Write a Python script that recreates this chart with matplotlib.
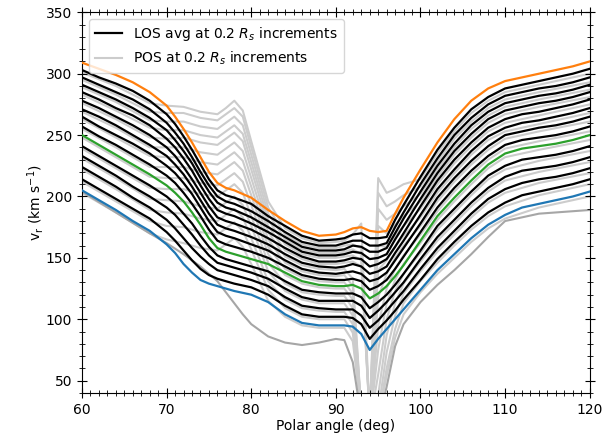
import matplotlib.pyplot as plt
from matplotlib.lines import Line2D
from matplotlib.ticker import MultipleLocator

# polar angles of the line-of-sight averaged profiles
theta_los = [60, 62, 64, 66, 68, 70, 71, 72, 73, 74, 75, 76, 77, 78, 80, 82, 84, 86, 88, 90,
             91, 92, 93, 94, 95, 96, 97, 98, 100, 102, 104, 106, 108, 110, 112, 114, 116, 118, 120]

# LOS averaged v_r (km/s), one row per height, lowest height first
los_vr = [
    [205, 197, 189, 180, 172, 161, 154, 145, 138, 132, 129, 127, 125, 123, 120, 114, 104, 97, 95, 95, 95, 94, 88, 75, 84, 92, 100, 108, 124, 140, 153, 166, 177, 185, 191, 194, 197, 200, 204],
    [214, 206, 198, 190, 182, 171, 164, 156, 148, 141, 136, 133, 131, 129, 126, 120, 111, 104, 102, 102, 102, 101, 96, 84, 92, 99, 107, 116, 132, 149, 163, 176, 187, 195, 201, 204, 207, 210, 214],
    [224, 216, 208, 199, 191, 181, 174, 166, 158, 151, 145, 140, 138, 136, 132, 127, 118, 111, 109, 108, 108, 108, 103, 93, 99, 107, 115, 123, 141, 158, 172, 186, 198, 206, 211, 214, 216, 219, 223],
    [233, 225, 217, 208, 200, 191, 185, 177, 169, 160, 152, 146, 144, 142, 138, 133, 125, 118, 115, 115, 115, 115, 111, 101, 107, 114, 122, 130, 149, 167, 181, 195, 207, 216, 221, 223, 225, 228, 232],
    [241, 233, 225, 217, 209, 200, 194, 186, 178, 168, 159, 152, 149, 147, 143, 139, 131, 124, 122, 121, 121, 121, 118, 109, 114, 120, 128, 137, 156, 176, 190, 204, 217, 225, 230, 232, 234, 237, 241],
    [250, 242, 234, 226, 218, 209, 203, 196, 187, 177, 166, 158, 155, 153, 149, 145, 138, 131, 128, 127, 127, 128, 125, 117, 121, 127, 135, 144, 164, 184, 199, 213, 226, 235, 239, 241, 243, 246, 250],
    [257, 249, 242, 234, 226, 217, 211, 203, 194, 184, 173, 164, 161, 159, 155, 150, 143, 136, 133, 132, 132, 133, 131, 124, 127, 132, 141, 151, 171, 191, 207, 221, 233, 242, 246, 248, 250, 253, 257],
    [265, 257, 250, 243, 235, 225, 219, 211, 202, 191, 180, 171, 168, 166, 161, 156, 148, 141, 138, 137, 138, 139, 137, 131, 133, 138, 148, 158, 178, 199, 215, 229, 241, 250, 253, 256, 258, 261, 265],
    [271, 265, 258, 250, 242, 233, 226, 218, 208, 197, 186, 177, 174, 172, 167, 161, 153, 146, 143, 142, 143, 145, 143, 137, 139, 143, 154, 164, 185, 206, 222, 237, 249, 256, 260, 262, 265, 268, 272],
    [278, 272, 265, 258, 250, 240, 233, 224, 214, 203, 192, 183, 180, 178, 173, 166, 158, 151, 147, 147, 148, 150, 149, 143, 145, 149, 159, 170, 192, 213, 230, 244, 256, 263, 267, 269, 272, 275, 279],
    [285, 279, 272, 266, 258, 247, 240, 231, 221, 209, 198, 189, 186, 184, 178, 171, 163, 155, 152, 152, 153, 155, 154, 149, 150, 153, 165, 176, 198, 219, 237, 251, 263, 270, 273, 276, 278, 281, 285],
    [291, 285, 279, 272, 264, 254, 246, 237, 227, 215, 204, 195, 191, 189, 183, 175, 167, 159, 156, 156, 157, 160, 159, 155, 155, 158, 170, 182, 204, 225, 243, 258, 269, 276, 279, 282, 284, 287, 291],
    [297, 291, 285, 279, 271, 260, 252, 243, 232, 220, 209, 200, 196, 194, 188, 180, 171, 163, 160, 160, 162, 164, 164, 160, 160, 162, 175, 187, 210, 231, 250, 264, 275, 282, 285, 288, 290, 293, 297],
    [303, 297, 292, 286, 278, 267, 259, 249, 238, 226, 214, 205, 201, 199, 194, 184, 176, 168, 164, 165, 166, 169, 170, 166, 166, 167, 181, 193, 216, 238, 256, 271, 281, 288, 291, 294, 297, 300, 304],
    [309, 304, 299, 293, 285, 274, 265, 255, 244, 232, 220, 211, 207, 205, 199, 189, 180, 172, 168, 169, 171, 174, 175, 172, 171, 172, 186, 199, 222, 244, 263, 278, 288, 294, 297, 300, 303, 306, 310],
]

# polar angles of the plane-of-sky profiles
theta_pos = [60, 64, 68, 70, 72, 74, 76, 77, 78, 79, 80, 82, 84, 86, 88, 90, 91, 92,
             93, 94, 95, 96, 97, 98, 100, 102, 104, 106, 108, 110, 114, 120]

# POS v_r (km/s), one row per height, lowest height first
pos_vr = [
    [204, 187, 170, 162, 153, 143, 131, 122, 113, 104, 96, 86, 81, 79, 81, 84, 83, 65, 20, 15, 15, 45, 78, 96, 114, 128, 140, 153, 167, 180, 186, 189],
    [203, 187, 170, 165, 162, 158, 156, 161, 166, 159, 145, 115, 102, 95, 93, 93, 93, 82, 25, 15, 20, 54, 85, 104, 122, 137, 150, 163, 174, 182, 191, 200],
    [212, 196, 180, 176, 175, 171, 169, 174, 179, 172, 157, 124, 109, 102, 100, 100, 100, 89, 25, 15, 20, 60, 92, 113, 131, 146, 160, 173, 184, 192, 201, 210],
    [222, 206, 189, 187, 186, 182, 180, 185, 190, 183, 166, 131, 116, 109, 107, 106, 106, 96, 25, 15, 25, 73, 103, 121, 139, 155, 169, 183, 195, 203, 211, 219],
    [231, 215, 198, 197, 196, 192, 190, 195, 200, 193, 176, 139, 123, 116, 113, 113, 113, 103, 25, 15, 38, 87, 113, 129, 147, 164, 178, 192, 204, 213, 220, 228],
    [239, 223, 207, 206, 206, 202, 200, 205, 210, 203, 184, 146, 129, 122, 120, 119, 119, 109, 25, 15, 55, 100, 123, 137, 154, 173, 187, 201, 214, 222, 229, 237],
    [248, 232, 216, 215, 215, 211, 209, 214, 219, 212, 193, 153, 136, 129, 126, 125, 125, 116, 25, 15, 75, 113, 132, 145, 162, 181, 196, 210, 223, 232, 238, 246],
    [255, 240, 224, 224, 224, 220, 218, 223, 228, 221, 201, 159, 141, 134, 131, 130, 130, 121, 25, 15, 95, 125, 141, 152, 169, 188, 204, 218, 230, 239, 245, 253],
    [263, 248, 233, 232, 232, 228, 226, 231, 236, 229, 208, 165, 146, 139, 136, 135, 136, 127, 25, 15, 118, 137, 150, 160, 176, 196, 212, 226, 238, 247, 253, 261],
    [269, 256, 240, 240, 240, 236, 234, 239, 244, 237, 215, 171, 151, 144, 141, 140, 141, 133, 25, 15, 140, 148, 159, 168, 183, 203, 219, 234, 246, 253, 259, 268],
    [276, 263, 248, 247, 248, 244, 242, 247, 252, 245, 222, 176, 156, 149, 145, 145, 146, 147, 143, 20, 160, 159, 168, 176, 190, 210, 227, 241, 253, 260, 266, 275],
    [283, 270, 256, 254, 254, 250, 248, 253, 258, 251, 228, 181, 161, 153, 150, 150, 151, 152, 148, 20, 176, 170, 177, 184, 196, 216, 234, 248, 260, 267, 273, 281],
    [289, 277, 262, 261, 261, 257, 255, 260, 265, 258, 234, 186, 165, 157, 154, 154, 155, 157, 153, 20, 190, 181, 186, 192, 202, 222, 240, 255, 266, 273, 279, 287],
    [295, 283, 269, 268, 268, 264, 262, 267, 272, 265, 240, 191, 169, 161, 158, 158, 160, 161, 158, 20, 203, 192, 196, 201, 208, 228, 247, 261, 272, 279, 285, 293],
    [301, 290, 276, 274, 273, 269, 267, 272, 278, 270, 245, 196, 174, 166, 162, 163, 164, 169, 178, 20, 215, 203, 206, 210, 214, 235, 253, 268, 278, 285, 291, 300],
]

highlight = {0: 'C0', 5: 'C2', 14: 'C1'}

fig, ax = plt.subplots(figsize=(6.03, 4.40), dpi=100)
fig.subplots_adjust(left=0.136, right=0.978, top=0.972, bottom=0.107)

for vr in pos_vr[1:]:
    ax.plot(theta_pos, vr, color='0.8', lw=1.5, zorder=1)
ax.plot(theta_pos, pos_vr[0], color='0.65', lw=1.5, zorder=1)

for i, vr in enumerate(los_vr):
    col = highlight.get(i, 'k')
    ax.plot(theta_los, vr, color=col, lw=1.6, zorder=4 if i in highlight else 3)

handles = [Line2D([], [], color='k', lw=1.6),
           Line2D([], [], color='0.8', lw=1.5)]
ax.legend(handles, ['LOS avg at 0.2 $R_s$ increments', 'POS at 0.2 $R_s$ increments'],
          loc='upper left')

ax.set_xlim(60, 120)
ax.set_ylim(40, 350)
ax.xaxis.set_major_locator(MultipleLocator(10))
ax.xaxis.set_minor_locator(MultipleLocator(1))
ax.yaxis.set_major_locator(MultipleLocator(50))
ax.yaxis.set_minor_locator(MultipleLocator(10))
ax.tick_params(which='both', direction='inout', top=True, right=True)
ax.tick_params(which='major', length=7)
ax.tick_params(which='minor', length=4)
ax.set_xlabel('Polar angle (deg)', labelpad=2)
ax.set_ylabel(r'v$_\mathrm{r}$ (km s$^{-1}$)', labelpad=0)

fig.savefig('out.png', dpi=100)
